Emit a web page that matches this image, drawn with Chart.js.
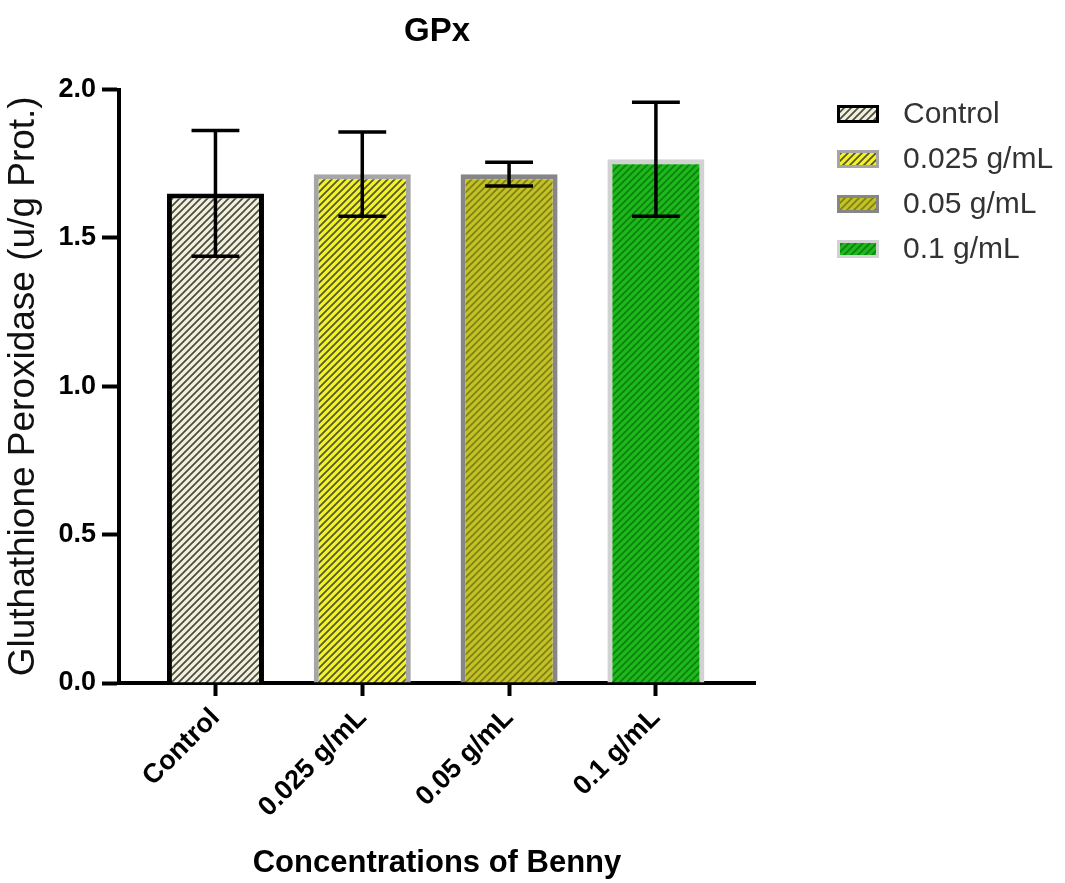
<!DOCTYPE html>
<html>
<head>
<meta charset="utf-8">
<script src="https://cdn.jsdelivr.net/npm/chart.js@4.4.0/dist/chart.umd.min.js"></script>
<style>
html,body{margin:0;padding:0;background:#ffffff;}
#c{display:block;}
</style>
</head>
<body>
<canvas id="c" width="1065" height="883"></canvas>
<script>
// ---- data ----
const categories = ['Control', '0.025 g/mL', '0.05 g/mL', '0.1 g/mL'];
const means = [1.65, 1.715, 1.715, 1.765];
const errors = [0.212, 0.142, 0.04, 0.192];
const yTicks = [0, 0.5, 1.0, 1.5, 2.0];

// ---- styles ----
const fills = ['#f0f0dc', '#f2f22a', '#c2c224', '#1cb81c'];
const stripes = ['#4a4a40', '#55552c', '#80801a', '#0e800e'];
const borders = ['#000000', '#a6a6a6', '#868686', '#d2d2d2'];
const FAMILY = "'Liberation Sans', Arial, Helvetica, sans-serif";

function hatch(bg, fg) {
  const s = 7;
  const c = document.createElement('canvas');
  c.width = s; c.height = s;
  const g = c.getContext('2d');
  g.fillStyle = bg;
  g.fillRect(0, 0, s, s);
  g.strokeStyle = fg;
  g.lineWidth = 1.7;
  g.beginPath();
  for (const o of [-s, 0, s]) {
    g.moveTo(o - 1, s + 1);
    g.lineTo(o + s + 1, -1);
  }
  g.stroke();
  return document.getElementById('c').getContext('2d').createPattern(c, 'repeat');
}
const patterns = fills.map((f, i) => hatch(f, stripes[i]));

const errorBars = {
  id: 'errorBars',
  afterDatasetsDraw(chart) {
    const { ctx, scales: { x, y } } = chart;
    ctx.save();
    ctx.strokeStyle = '#000';
    ctx.lineWidth = 3.5;
    ctx.lineCap = 'butt';
    means.forEach((m, i) => {
      const px = x.getPixelForValue(i);
      const top = y.getPixelForValue(m + errors[i]);
      const bot = y.getPixelForValue(m - errors[i]);
      const hw = x.getPixelForValue(i + 0.163) - px;
      ctx.beginPath();
      ctx.moveTo(px, top); ctx.lineTo(px, bot);
      ctx.moveTo(px - hw, top); ctx.lineTo(px + hw, top);
      ctx.moveTo(px - hw, bot); ctx.lineTo(px + hw, bot);
      ctx.stroke();
    });
    ctx.restore();
  }
};

const sideLegend = {
  id: 'sideLegend',
  afterDraw(chart) {
    const { ctx, chartArea } = chart;
    const bx = chartArea.right + 82;
    const tx = bx + 66;
    ctx.save();
    ctx.font = '30px ' + FAMILY;
    ctx.textBaseline = 'middle';
    ctx.textAlign = 'left';
    categories.forEach((c, i) => {
      const cy = 114 + i * 45;
      const bw = 3;
      ctx.fillStyle = borders[i];
      ctx.fillRect(bx, cy - 9, 42, 18);
      ctx.fillStyle = patterns[i];
      ctx.fillRect(bx + bw, cy - 9 + bw, 42 - 2 * bw, 18 - 2 * bw);
      ctx.fillStyle = '#333333';
      ctx.fillText(c, tx, cy + 1);
    });
    ctx.restore();
  }
};

Chart.defaults.font.family = FAMILY;

new Chart(document.getElementById('c'), {
  type: 'bar',
  data: {
    datasets: [{
      label: 'GPx',
      data: categories.map((c, i) => ({ x: i, y: means[i] })),
      backgroundColor: patterns,
      borderColor: borders,
      borderWidth: 5,
      borderSkipped: 'bottom',
      barPercentage: 0.661,
      categoryPercentage: 1
    }]
  },
  options: {
    responsive: false,
    animation: false,
    devicePixelRatio: 1,
    layout: { padding: { left: 0, right: 310, top: 0, bottom: 0 } },
    plugins: {
      legend: { display: false },
      tooltip: { enabled: false },
      title: {
        display: true,
        text: 'GPx',
        fullSize: false,
        color: '#000',
        font: { family: FAMILY, size: 33, weight: 'bold' },
        padding: { top: 12, bottom: 38 }
      }
    },
    scales: {
      x: {
        type: 'linear',
        offset: false,
        min: -0.657,
        max: 3.675,
        afterBuildTicks: s => { s.ticks = categories.map((c, i) => ({ value: i })); },
        afterFit: s => { s.height = 200; },
        ticks: {
          autoSkip: false,
          maxRotation: 45,
          minRotation: 45,
          color: '#000',
          padding: 6,
          font: { family: FAMILY, size: 27, weight: 'bold' },
          callback: v => categories[v]
        },
        grid: { drawOnChartArea: false, offset: false, tickLength: 13, tickWidth: 4, color: '#000' },
        border: { display: true, width: 4, color: '#000' },
        title: {
          display: true,
          text: 'Concentrations of Benny',
          color: '#000',
          font: { family: FAMILY, size: 31, weight: 'bold' },
          padding: { top: 0, bottom: 1 }
        }
      },
      y: {
        min: 0,
        max: 2,
        afterBuildTicks: s => { s.ticks = yTicks.map(v => ({ value: v })); },
        afterFit: s => { s.width = 119; },
        ticks: {
          color: '#000',
          padding: 6,
          font: { family: FAMILY, size: 27, weight: 'bold' },
          callback: v => Number(v).toFixed(1)
        },
        grid: { drawOnChartArea: false, tickLength: 17, tickWidth: 4, color: '#000' },
        border: { display: true, width: 4, color: '#000' },
        title: {
          display: true,
          text: 'Gluthathione Peroxidase (u/g Prot.)',
          color: '#111',
          font: { family: FAMILY, size: 37, weight: 'normal' },
          padding: { top: 2, bottom: 0 }
        }
      }
    }
  },
  plugins: [errorBars, sideLegend]
});
</script>
</body>
</html>
